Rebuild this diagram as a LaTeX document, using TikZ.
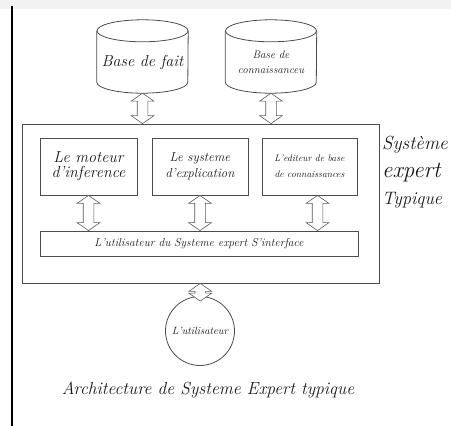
\documentclass[tikz,border=0pt]{standalone}
\usepackage{tikz}
\usetikzlibrary{shapes.arrows,calc}

% hollow double arrow between two named points
\newcommand{\dbarrow}[2]{%
  \path let \p1=(#1), \p2=(#2), \n1={veclen(\x2-\x1,\y2-\y1)} in
    node[darrow, minimum height=\n1] at ($(#1)!0.5!(#2)$) {};}
% drum outline round a named node (north = centre of the lid)
\newcommand{\drum}[1]{%
  \draw[line] (#1.north) ellipse [x radius=45.5, y radius=11];
  \draw[line] (#1.north west) -- ($(#1.south west)+(0,-11)$)
    arc [start angle=180, end angle=0, x radius=45.5, y radius=11] -- (#1.north east);}
\newcommand{\fs}[1]{\fontsize{#1}{#1}\selectfont}

\begin{document}
\begin{tikzpicture}[x=1pt, y=-1pt,
    every node/.style={font=\itshape, text=black!90},
    line/.style={draw=black!70, line width=0.8pt},
    db/.style={minimum width=91pt, minimum height=62pt, align=center, inner sep=1pt},
    box/.style={line, align=center, inner sep=1pt},
    darrow/.style={double arrow, draw=black!65, fill=white, line width=0.6pt, rotate=90,
      minimum width=22pt, double arrow head extend=6pt, double arrow tip angle=110,
      inner xsep=0pt, inner ysep=5pt}]
    \useasboundingbox (0,0) rectangle (451,426);
    \fill[black!5] (0,0) rectangle (451,9);
    \draw[line width=1.5pt] (12,6) -- (12,426);

    % the two bases
    \node[db] (fait) at (142.5,62) {\fs{16}Base de fait};
    \node[db] (conn) at (271,62) {\fs{11}Base de\\[3pt]\fs{11}connaissanceu};
    \drum{fait}
    \drum{conn}

    % the system
    \node[box, minimum width=357pt, minimum height=159pt] (sys) at (200.5,203.5) {};
    \node[box, minimum width=97pt, minimum height=57pt] (moteur) at (88.5,166.5)
        {\fs{16}Le moteur\\[3pt]\fs{16}d'inference};
    \node[box, minimum width=96pt, minimum height=57pt] (expl) at (200,166.5)
        {\fs{13}Le systeme\\[4pt]\fs{13}d'explication};
    \node[box, minimum width=95pt, minimum height=57pt] (edit) at (309.5,166.5)
        {\fs{9.5}L'editeur de base\\[4pt]\fs{9.5}de connaissances};
    \node[box, minimum width=318pt, minimum height=25pt] (ui) at (199,243.5)
        {\fs{11.5}L'utilisateur du Systeme expert S'interface};

    \node[circle, line, minimum size=69pt, inner sep=0pt] (user)
        at (200,331) {\fs{10.5}L'utilisateur};

    \node[anchor=west, inner sep=0pt] (sys1) at (382,145) {\fs{19}Système};
    \node[anchor=west, inner sep=0pt] (sys2) at (382,173) {\fs{23}expert};
    \node[anchor=west, inner sep=0pt] (sys3) at (382,200) {\fs{18}Typique};

    \node (titre) at (208,390) {\fs{17.5}Architecture de Systeme Expert typique};

    % connectors
    \coordinate (e1) at ($(edit.south)+(8,0)$);
    \coordinate (e2) at (e1 |- ui.north);
    \coordinate (u1) at ($(user.north)+(0,5)$);
    \dbarrow{fait.south}{fait.south |- sys.north}
    \dbarrow{conn.south}{conn.south |- sys.north}
    \dbarrow{moteur.south}{moteur.south |- ui.north}
    \dbarrow{expl.south}{expl.south |- ui.north}
    \dbarrow{e1}{e2}
    \dbarrow{sys.south}{u1}
\end{tikzpicture}
\end{document}
